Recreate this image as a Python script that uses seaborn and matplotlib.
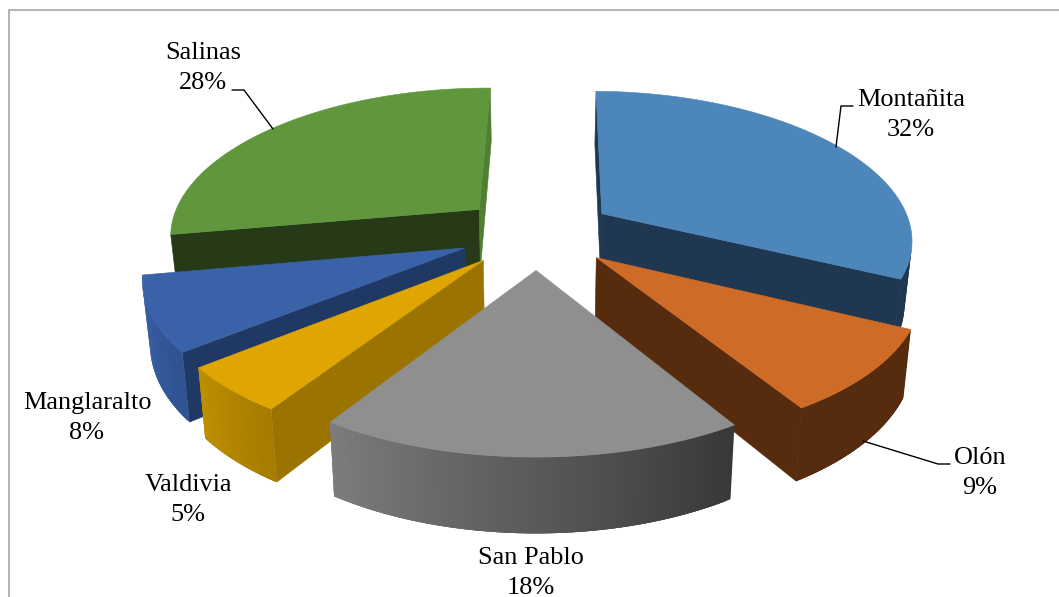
import numpy as np
import matplotlib
matplotlib.use("Agg")
import matplotlib.pyplot as plt
from matplotlib.patches import Polygon
from matplotlib.colors import to_rgb
import seaborn as sns

# ---- data ----
categories = ["Montañita", "Olón", "San Pablo", "Valdivia", "Manglaralto", "Salinas"]
values = [32, 9, 18, 5, 8, 28]

# ---- styles ----
top_colors = ["#4d86bb", "#cd6b27", "#8f8f8f", "#dfa500", "#3a62a8", "#60973d"]
start_face = ["#1f3750", "#562b0e", "#555555", "#9a7300", "#203864", "#263a17"]
end_face = ["#1f3750", "#562b0e", "#555555", "#9a7300", "#203864", "#4f7f31"]
wall_start = ["#1f3750", "#562b0e", "#383838", "#a67b00", "#2f5290", "#263a17"]
wall_end = ["#1f3750", "#562b0e", "#7c7c7c", "#bd8f00", "#3a62a8", "#263a17"]
draw_order = [5, 0, 4, 1, 3, 2]
label_xy = [(911, 115), (980, 473), (531, 573), (188, 500), (87, 418), (203, 68)]
leaders = [[(853, 106), (841, 106), (836, 147)],
           [(863, 441), (938, 464), (950, 464)],
           [(232, 90), (244, 90), (273, 129)]]

sns.set_theme(style="white")
plt.rcParams["font.family"] = ["Liberation Serif", "DejaVu Serif"]

CX, CY, RX, RY = 537.0, 232.5, 311.0, 146.0
PERSP, EXPLODE, HEIGHT, CONVERGE = 0.15, 0.25, 62.0, 0.98
ROTATE = np.radians(0.7)

fig = plt.figure(figsize=(10.59, 5.97), dpi=100)
ax = fig.add_axes([0, 0, 1, 1])
ax.set_xlim(0, 1059)
ax.set_ylim(597, 0)
ax.axis("off")


def project(X, Y, low=False):
    s = 1.0 / (1.0 + PERSP * Y)
    x = CX + RX * X * s ** 1.08
    y = CY - RY * Y * s
    if low:
        x = CX + (x - CX) * CONVERGE
        y = y + HEIGHT * s
    return x, y


def poly(points, color, z, edge=True):
    ax.add_patch(Polygon(points, closed=True, facecolor=color,
                         edgecolor=color if edge else "none",
                         linewidth=0.4 if edge else 0, joinstyle="round", zorder=z))


def faces_viewer(points):
    p = np.array(points)
    q = np.roll(p, -1, axis=0)
    return np.sum(p[:, 0] * q[:, 1] - q[:, 0] * p[:, 1]) < 0


# frame
ax.plot([8.5, 8.5, 1059], [597, 10.2, 10.2], color="#a6a6a6", lw=1.2, zorder=0,
        solid_joinstyle="miter")

edges = np.concatenate([[0], np.cumsum(values)]) / np.sum(values) * 2 * np.pi + ROTATE

for rank, i in enumerate(draw_order):
    a0, a1 = edges[i], edges[i + 1]
    mid = (a0 + a1) / 2
    ox, oy = EXPLODE * np.sin(mid), EXPLODE * np.cos(mid)
    angles = np.linspace(a0, a1, 90)
    xs, ys = ox + np.sin(angles), oy + np.cos(angles)
    z = 10 + rank * 4
    apex_t, apex_b = project(ox, oy), project(ox, oy, True)

    # radial cut faces, only where they turn towards the viewer
    r0 = (ox + np.sin(a0), oy + np.cos(a0))
    r1 = (ox + np.sin(a1), oy + np.cos(a1))
    q0 = [apex_t, project(*r0), project(*r0, True), apex_b]
    q1 = [project(*r1), apex_t, apex_b, project(*r1, True)]
    if faces_viewer(q0):
        poly(q0, start_face[i], z)
    if faces_viewer(q1):
        poly(q1, end_face[i], z)

    # outer wall, shaded along the arc; quads overlap to hide seams
    c0, c1 = np.array(to_rgb(wall_start[i])), np.array(to_rgb(wall_end[i]))
    n = len(angles)
    for k in range(n - 1):
        t = k / (n - 2)
        col = tuple(c0 + (c1 - c0) * t)
        j = min(k + 3, n - 1)
        quad = [project(xs[k], ys[k]), project(xs[j], ys[j]),
                project(xs[j], ys[j], True), project(xs[k], ys[k], True)]
        if faces_viewer(quad):
            poly(quad, col, z + 1, edge=False)

    # top
    rim = [project(a, b) for a, b in zip(xs, ys)]
    poly([apex_t] + rim, top_colors[i], z + 2)

for name, val, (x, y) in zip(categories, values, label_xy):
    ax.text(x, y, f"{name}\n{val}%", ha="center", va="center", fontsize=18.9,
            color="black", linespacing=1.48, zorder=50)

for pts in leaders:
    ax.plot(*zip(*pts), color="black", lw=1.0, zorder=49, solid_joinstyle="miter")

fig.savefig("out.png", dpi=100, facecolor="white")
